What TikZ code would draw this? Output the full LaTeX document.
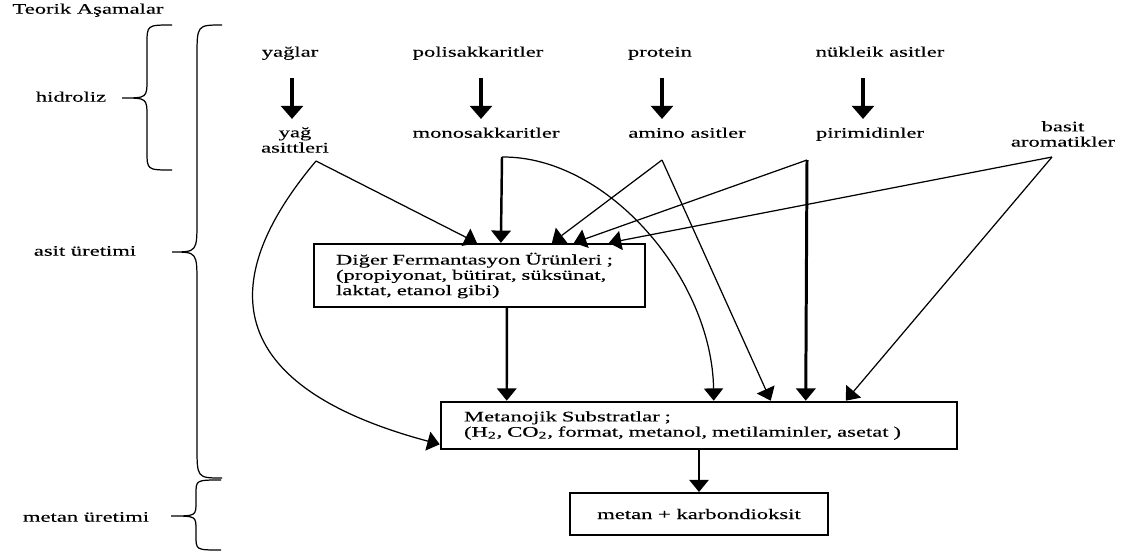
\documentclass[tikz,border=0pt]{standalone}
\usepackage{fontspec}
\setmainfont{Liberation Serif}[FakeStretch=1.55,FakeBold=0.2]
\usetikzlibrary{arrows.meta,calc}

\tikzset{
  term/.style={font=\fontsize{8.3pt}{8.7pt}\selectfont, inner sep=1pt, text height=6pt, text depth=1.8pt},
  term2/.style={font=\fontsize{8.3pt}{8.7pt}\selectfont, inner sep=1pt, align=center},
  box/.style={draw, font=\fontsize{8.3pt}{8.7pt}\selectfont, align=left},
  flow/.style={line width=0.7pt, -{Triangle[length=7pt,width=11pt]}},
  flowthick/.style={line width=1.4pt, -{Triangle[length=7pt,width=11pt]}},
  hydro/.style={line width=2pt, -{Triangle[length=7.5pt,width=12.5pt]}},
  bracestyle/.style={line width=0.7pt}
}

\newcommand{\phasebrace}[5]{%
  \draw[bracestyle] (#1,#2) .. controls (#1-25,#2) .. (#1-25,#2+#5)
    -- (#1-25,#3-#5) .. controls (#1-25,#3) .. (#1-50,#3)
    .. controls (#1-25,#3) .. (#1-25,#3+#5)
    -- (#1-25,#4-#5) .. controls (#1-25,#4) .. (#1,#4);}

\begin{document}
\begin{tikzpicture}[x=0.02cm, y=-0.02cm]
  \useasboundingbox (0,0) rectangle (1135,555);

  \node[term] (teorik) at (88,10) {Teorik Aşamalar};

  \node[term] (hidroliz) at (71,98) {hidroliz};
  \node[term] (asit) at (85,252) {asit üretimi};
  \node[term] (metanuretimi) at (86,518) {metan üretimi};

  \phasebrace{172}{25}{98}{170}{19}
  \phasebrace{222}{25}{252}{478}{32}
  \phasebrace{221}{480}{516}{550}{14}

  \node[term] (yaglar) at (290,53) {yağlar};
  \node[term] (polisak) at (478,53) {polisakkaritler};
  \node[term] (protein) at (660,53) {protein};
  \node[term] (nukleik) at (880,53) {nükleik asitler};

  \node[term2] (yagasit) at (295,140) {yağ\\asittleri};
  \node[term] (monosak) at (486,134) {monosakkaritler};
  \node[term] (amino) at (687,134) {amino asitler};
  \node[term] (pirimid) at (870,134) {pirimidinler};
  \node[term2] (aromatik) at (1063,134) {basit\\aromatikler};

  \foreach \n/\dx in {yaglar/2, polisak/3, protein/2, nukleik/-17}
    \draw[hydro] (\n.south) ++(\dx,16) -- ++(0,41);

  \node[box, line width=1.3pt, inner xsep=0.44cm, text width=5.74cm, minimum height=1.26cm] (diger) at (479.5,275.5)
    {Diğer Fermantasyon Ürünleri ;\\(propiyonat, bütirat, süksünat,\\laktat, etanol gibi)};
  \node[box, line width=1.5pt, inner xsep=0.46cm, text width=9.4cm, minimum height=0.94cm] (metanojik) at (699,425.5)
    {Metanojik Substratlar ;\\(H\textsubscript{2}, CO\textsubscript{2}, format, metanol, metilaminler, asetat )};
  \node[box, line width=1.1pt, align=center, minimum width=5.16cm, minimum height=0.84cm] (metan) at (699,514)
    {metan + karbondioksit};

  \coordinate (ya) at (316,161);
  \coordinate (mo) at (502,157);
  \coordinate (am) at (662,160);
  \coordinate (pi) at (807,160);
  \coordinate (ar) at (1052,157);

  \draw[flow] (ya) -- ($(diger.north west)+(164,0)$);
  \draw[flow] (ya) .. controls (195,305) and (255,395) .. ($(metanojik.south west)+(0,-6)$);
  \draw[flowthick] (mo) -- ($(diger.north west)+(188,0)$);
  \draw[flow] (mo) .. controls (608,156) and (712,279) .. ($(metanojik.north west)+(274,0)$);
  \draw[flow] (am) -- ($(diger.north west)+(239,0)$);
  \draw[flow] (am) -- ($(metanojik.north west)+(331,0)$);
  \draw[flow] (pi) -- ($(diger.north west)+(261,0)$);
  \draw[flowthick, line width=1.7pt] (pi) -- ($(metanojik.north west)+(366,0)$);
  \draw[flow] (ar) -- ($(diger.north west)+(296,0)$);
  \draw[flow] (ar) -- ($(metanojik.north west)+(406,0)$);

  \draw[flowthick] ($(diger.south west)+(194,0)$) -- ($(metanojik.north west)+(67,0)$);
  \draw[flowthick] (metanojik) -- (metan);
\end{tikzpicture}
\end{document}
